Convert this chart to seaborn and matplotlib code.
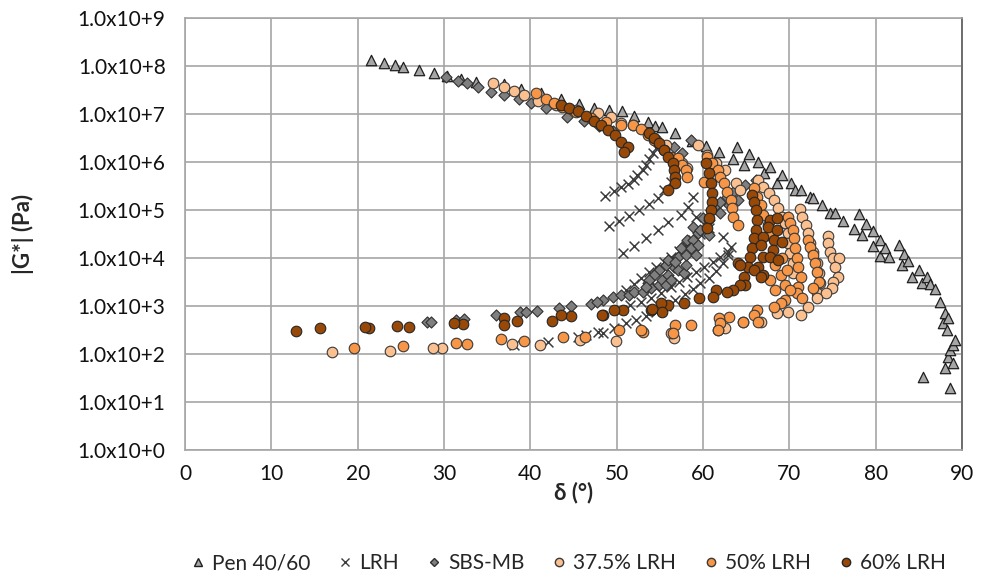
import numpy as np
import pandas as pd
import matplotlib
matplotlib.use('Agg')
import matplotlib.pyplot as plt
from matplotlib.lines import Line2D
from matplotlib.ticker import FixedLocator, FuncFormatter, NullLocator
import seaborn as sns

# Black diagram: phase angle (deg) vs log10 |G*| (Pa)

pen_delta = [21.5, 23.1, 24.3, 25.3, 27.1, 28.9, 30.3, 32.0, 33.7, 36.9, 38.9, 41.2, 43.6, 45.6, 47.4,
             49.1, 50.6, 52.0, 53.6, 54.4, 55.2, 56.8, 58.7, 60.4, 61.9, 63.5, 63.9, 64.8, 65.3, 66.4,
             67.1, 67.8, 68.6, 69.2, 70.2, 70.7, 71.3, 72.4, 72.7, 73.8, 74.7, 75.3, 76.2, 77.5, 78.1,
             78.4, 78.9, 79.7, 79.7, 80.5, 80.5, 81.1, 81.6, 82.7, 83.1, 83.3, 83.8, 84.2, 85.0, 85.4,
             86.0, 86.3, 86.9, 87.5, 87.8, 88.0, 88.0, 88.3, 88.4, 88.4, 88.6, 88.6, 89.0, 89.0, 89.2, 85.5]
pen_logG = [8.13, 8.06, 8.02, 7.98, 7.92, 7.85, 7.79, 7.73, 7.67, 7.63, 7.52, 7.44, 7.31, 7.21, 7.13,
            7.08, 7.06, 6.96, 6.83, 6.75, 6.73, 6.60, 6.44, 6.33, 6.21, 6.06, 6.31, 5.94, 6.17, 6.00,
            5.77, 5.90, 5.56, 5.73, 5.56, 5.42, 5.42, 5.27, 5.25, 5.10, 4.94, 4.94, 4.77, 4.60, 4.92,
            4.48, 4.71, 4.56, 4.25, 4.38, 4.04, 4.21, 4.02, 4.27, 3.85, 4.08, 3.94, 3.60, 3.75, 3.48,
            3.60, 3.46, 3.35, 3.08, 2.65, 2.85, 1.71, 2.50, 2.75, 1.94, 2.08, 1.29, 2.19, 1.81, 2.29, 1.52]

lrh_delta = [48.6, 49.7, 50.5, 51.3, 52.0, 52.4, 53.0, 53.4, 53.7, 54.2, 54.5,
             49.1, 50.3, 51.4, 52.6, 53.7, 54.8, 55.5, 56.3,
             50.7, 52.0, 53.4, 54.8, 56.0, 57.4, 58.3, 58.9,
             51.1, 52.0, 52.8, 53.7, 54.5, 55.5, 56.3, 57.2, 58.0, 58.8, 59.7, 60.7,
             50.5, 51.6, 52.8, 54.0, 55.1, 56.3, 57.2, 58.2, 59.2, 60.1, 61.2, 62.0, 62.9,
             38.1, 42.1, 45.5, 48.4, 49.7, 51.1, 52.2, 53.4, 54.5, 55.7, 56.8, 57.9, 58.8, 59.7,
             60.7, 61.5, 62.3, 62.9, 63.3,
             59.2, 62.3, 46.5, 47.8]
lrh_logG = [5.29, 5.40, 5.48, 5.54, 5.63, 5.73, 5.83, 5.94, 6.06, 6.19, 6.29,
            4.67, 4.77, 4.88, 5.00, 5.13, 5.25, 5.42, 5.58,
            4.10, 4.25, 4.42, 4.58, 4.75, 4.90, 5.06, 5.27,
            3.33, 3.46, 3.58, 3.71, 3.81, 3.92, 4.02, 4.15, 4.25, 4.38, 4.50, 4.63,
            2.92, 3.02, 3.08, 3.17, 3.27, 3.40, 3.50, 3.60, 3.71, 3.81, 3.92, 4.02, 4.13,
            2.19, 2.25, 2.35, 2.44, 2.54, 2.65, 2.71, 2.79, 2.88, 3.00, 3.13, 3.25, 3.35, 3.48,
            3.58, 3.73, 3.90, 4.06, 4.23,
            4.85, 4.44, 2.40, 2.46]

sbs_delta = [30.2, 31.6, 32.7, 33.9, 35.4, 37.0, 38.7, 40.1, 41.8, 44.3, 46.2, 47.9, 49.6, 56.6, 57.6, 58.6,
             48.4, 49.6, 50.5, 51.4, 52.0, 53.1, 53.6, 54.0, 54.9, 55.3, 55.7, 56.0, 56.3, 56.6, 57.1,
             57.1, 57.4, 57.8, 58.0, 58.0, 58.2, 58.8, 58.9, 59.2, 59.4, 59.7, 60.0, 60.7, 60.7, 60.9,
             61.5, 62.0, 62.0, 63.0, 64.0, 54.9, 55.7, 56.0, 54.3, 53.7, 53.4, 58.6, 56.8, 59.4, 62.8,
             63.5, 64.9, 66.1,
             28.0, 28.5, 31.4, 32.3, 36.0, 38.8, 39.5, 40.8, 43.3, 44.7, 47.0, 47.7]
sbs_logG = [7.77, 7.69, 7.65, 7.56, 7.46, 7.40, 7.31, 7.23, 7.13, 6.94, 6.85, 6.75, 6.65, 6.31, 6.19, 6.46,
            3.13, 3.19, 3.23, 3.23, 3.29, 3.29, 3.48, 3.38, 3.44, 3.54, 3.44, 3.65, 3.54, 3.81, 3.75,
            4.02, 4.21, 3.69, 3.85, 4.06, 4.38, 4.38, 4.65, 4.06, 4.52, 4.58, 4.83, 4.48, 4.79, 5.00,
            5.10, 4.94, 5.17, 5.10, 5.21, 3.75, 3.85, 3.96, 3.65, 3.54, 3.40, 4.21, 3.92, 4.27, 5.27,
            5.38, 5.52, 5.63,
            2.67, 2.67, 2.71, 2.73, 2.81, 2.88, 2.88, 2.90, 2.96, 3.00, 3.04, 3.08]

lrh375_delta = [35.7, 36.9, 38.1, 39.3, 40.9, 43.0, 45.3, 47.8, 49.3, 50.5, 51.9, 54.5, 55.7, 57.6, 58.2,
                59.4, 60.5, 61.5, 62.5, 63.8, 64.3,
                66.4, 67.0, 67.6, 68.2, 68.7, 69.2, 69.5, 69.8, 69.9, 70.1, 70.4, 70.4,
                71.2, 71.5, 71.9, 72.2, 72.4, 72.8, 73.2, 73.4, 73.6, 73.2,
                74.5, 74.5, 74.7, 75.1, 75.7, 75.3, 75.6, 75.1, 75.0, 74.2, 73.2, 72.2, 71.3,
                69.8, 68.6, 66.7, 64.6, 62.6, 61.7, 56.6, 56.3, 49.9, 45.7, 41.1, 37.9, 29.8, 28.7, 23.8, 17.0]
lrh375_logG = [7.65, 7.56, 7.48, 7.40, 7.27, 7.19, 7.08, 7.02, 6.94, 6.81, 6.77, 6.46, 6.35, 5.98, 5.88,
               6.35, 6.15, 5.98, 5.83, 5.56, 5.42,
               5.63, 5.48, 5.35, 5.21, 5.04, 4.85, 4.73, 4.52, 4.31, 4.10, 3.90, 3.69,
               5.02, 4.85, 4.69, 4.52, 4.31, 4.13, 3.90, 3.69, 3.48, 3.27,
               4.46, 4.31, 4.13, 4.00, 4.00, 3.81, 3.60, 3.50, 3.38, 3.27, 3.17, 2.98, 2.81,
               2.88, 2.85, 2.67, 2.67, 2.54, 2.50, 2.33, 2.44, 2.27, 2.29, 2.19, 2.21, 2.13, 2.13, 2.06, 2.04]

lrh50_delta = [40.7, 41.8, 42.7, 43.7, 45.3, 47.0, 48.8, 50.5, 51.9, 52.8, 53.6, 54.3, 55.5, 56.3, 57.1,
               57.6, 58.0, 58.2,
               60.5, 61.1, 61.7, 62.0, 62.4, 62.8, 63.2, 63.4, 63.5, 64.0, 60.1,
               65.9, 66.3, 66.7, 67.0, 67.5, 67.6,
               69.9, 70.1, 70.4, 70.5, 70.7, 70.9, 71.0, 71.3, 71.0, 70.9,
               72.2, 72.4, 72.8, 73.0, 73.2, 73.4, 72.8, 71.5,
               68.4, 69.0, 69.5, 67.8, 68.4, 69.2, 69.7,
               70.1, 69.5, 69.0, 68.2, 66.3, 65.9, 66.4, 64.6, 63.0, 61.8, 62.0, 61.7, 58.6, 56.8, 56.5,
               53.0, 52.8, 50.3, 46.3, 43.8, 39.3, 36.6, 32.7, 31.4, 25.2, 19.6]
lrh50_logG = [7.44, 7.31, 7.23, 7.15, 7.04, 6.92, 6.83, 6.77, 6.77, 6.69, 6.56, 6.46, 6.25, 6.10, 6.08,
              5.94, 5.83, 5.69,
              6.10, 5.98, 5.83, 5.69, 5.56, 5.38, 5.21, 5.04, 4.85, 4.69, 5.58,
              5.46, 5.27, 5.10, 4.90, 4.69, 4.48,
              4.85, 4.73, 4.58, 4.42, 4.21, 4.00, 3.81, 3.60, 3.40, 3.27,
              4.38, 4.23, 4.06, 3.90, 3.71, 3.50, 3.38, 3.17,
              3.85, 3.65, 3.44, 3.54, 3.33, 4.00, 3.75,
              3.33, 3.13, 3.06, 2.98, 2.92, 2.81, 2.67, 2.67, 2.77, 2.75, 2.65, 2.50, 2.60, 2.60, 2.44,
              2.46, 2.50, 2.50, 2.35, 2.35, 2.27, 2.31, 2.21, 2.23, 2.17, 2.13]

lrh60_delta = [43.6, 44.5, 45.5, 46.4, 47.4, 48.2, 49.0, 49.8, 50.5, 51.3, 50.8,
               53.7, 54.3, 54.9, 55.5, 56.0, 56.5, 56.7, 56.8, 56.8, 56.0,
               60.3, 60.7, 60.9, 61.1, 61.1, 60.9, 60.7, 60.5,
               65.7, 65.9, 66.1, 66.3, 66.1, 65.9, 65.7, 65.5, 65.2, 64.7,
               67.8, 67.5, 67.0, 66.7, 66.9, 66.4, 66.9,
               68.6, 68.6, 68.2, 68.1, 67.8, 68.7, 69.2, 64.1,
               64.3, 65.9, 66.7, 64.9, 64.3, 63.5, 62.8, 61.5, 61.2, 59.5, 57.8, 55.9, 55.1, 54.0, 55.3,
               54.1, 50.7, 49.7, 48.4, 48.3, 44.7, 43.6, 42.5, 38.4, 37.0, 36.9, 32.2, 31.2, 26.0, 24.6,
               21.3, 20.8, 15.6, 12.9]
lrh60_logG = [7.19, 7.13, 7.06, 6.96, 6.85, 6.77, 6.67, 6.56, 6.42, 6.31, 6.21,
              6.60, 6.50, 6.40, 6.25, 6.10, 5.98, 5.83, 5.69, 5.56, 5.42,
              5.98, 5.77, 5.56, 5.35, 5.17, 5.00, 4.83, 4.63,
              5.31, 5.17, 5.00, 4.79, 4.58, 4.42, 4.21, 4.02, 3.81, 3.60,
              4.79, 4.65, 4.44, 4.27, 4.02, 3.81, 3.65,
              4.83, 4.58, 4.38, 4.17, 4.02, 3.96, 4.33, 3.90,
              3.85, 3.75, 3.60, 3.44, 3.44, 3.33, 3.29, 3.33, 3.19, 3.17, 3.06, 3.02, 3.06, 2.92, 2.88,
              2.94, 2.92, 2.92, 2.81, 2.81, 2.79, 2.81, 2.69, 2.69, 2.75, 2.60, 2.63, 2.65, 2.56, 2.58,
              2.54, 2.56, 2.54, 2.48]

labels = ['Pen 40/60', 'LRH', 'SBS-MB', '37.5% LRH', '50% LRH', '60% LRH']
y_exponents = list(range(0, 10))
x_ticks = list(range(0, 100, 10))

sns.set_style('white')
plt.rcParams['font.family'] = ['Lato', 'DejaVu Sans']

fig = plt.figure(figsize=(9.82, 5.83), dpi=100)
ax = fig.add_axes([0.1884, 0.228, 0.7912, 0.741])
ax.set_yscale('log')

styles = [
    dict(marker='^', color='#a6a6a6', edgecolor='#1f1f1f', s=56, linewidth=0.9),
    dict(marker='x', color='#3c3c3c', s=50, linewidth=1.1),
    dict(marker='D', color='#7f7f7f', edgecolor='#303030', s=32, linewidth=0.8),
    dict(marker='o', color='#fac090', edgecolor='#3a3a3a', s=58, linewidth=0.8),
    dict(marker='o', color='#f79646', edgecolor='#3a3a3a', s=58, linewidth=0.8),
    dict(marker='o', color='#984807', edgecolor='#262626', s=58, linewidth=0.8),
]
data = [(pen_delta, pen_logG), (lrh_delta, lrh_logG), (sbs_delta, sbs_logG),
        (lrh375_delta, lrh375_logG), (lrh50_delta, lrh50_logG), (lrh60_delta, lrh60_logG)]

for i, ((d, lg), st) in enumerate(zip(data, styles)):
    df = pd.DataFrame({'delta': d, 'G': 10.0 ** np.array(lg)})
    sns.scatterplot(data=df, x='delta', y='G', ax=ax, legend=False, zorder=3 + i, **st)

ax.set_xlim(0, 90)
ax.set_ylim(1, 1e9)
ax.xaxis.set_major_locator(FixedLocator(x_ticks))
ax.yaxis.set_major_locator(FixedLocator([10.0 ** e for e in y_exponents]))
ax.yaxis.set_minor_locator(NullLocator())
ax.yaxis.set_major_formatter(FuncFormatter(lambda v, p: '1.0x10+%d' % round(np.log10(v))))

ax.grid(True, color='#a6a6a6', linewidth=1.2)
ax.set_axisbelow(True)
for side in ['left', 'bottom', 'top']:
    ax.spines[side].set_color('#a6a6a6')
    ax.spines[side].set_linewidth(1.2)
ax.spines['right'].set_color('#6e6e6e')
ax.spines['right'].set_linewidth(1.4)
ax.tick_params(axis='both', direction='out', length=5, width=1.2, color='#a6a6a6',
               labelsize=15, labelcolor='#111111')
ax.tick_params(axis='y', pad=9)
ax.tick_params(axis='x', pad=5)

ax.set_xlabel('δ (°)', fontsize=16, fontweight='bold')
ax.set_ylabel('|G*| (Pa)', fontsize=16, fontweight='bold')
ax.xaxis.set_label_coords(0.5, -0.072)
ax.yaxis.set_label_coords(-0.195, 0.5)

handles = [
    Line2D([], [], ls='none', marker='^', markerfacecolor='#a6a6a6', markeredgecolor='#1f1f1f', markersize=6),
    Line2D([], [], ls='none', marker='x', color='#3c3c3c', markersize=6),
    Line2D([], [], ls='none', marker='D', markerfacecolor='#7f7f7f', markeredgecolor='#303030', markersize=4),
    Line2D([], [], ls='none', marker='o', markerfacecolor='#fac090', markeredgecolor='#3a3a3a', markersize=6),
    Line2D([], [], ls='none', marker='o', markerfacecolor='#f79646', markeredgecolor='#3a3a3a', markersize=6),
    Line2D([], [], ls='none', marker='o', markerfacecolor='#984807', markeredgecolor='#262626', markersize=6),
]
fig.legend(handles, labels, loc='center', bbox_to_anchor=(0.577, 0.034), ncol=6, frameon=False,
           fontsize=15, handletextpad=0.2, columnspacing=1.15, handlelength=1.0)

fig.savefig('out.png', dpi=100)
